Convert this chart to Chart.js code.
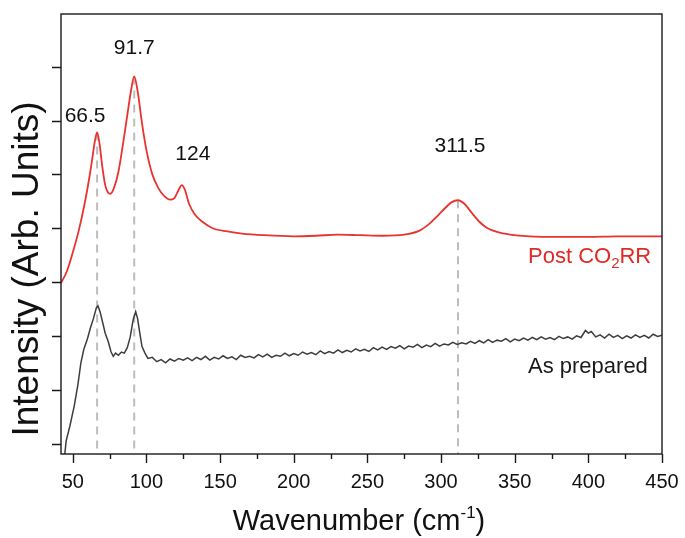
<!DOCTYPE html>
<html>
<head>
<meta charset="utf-8">
<script src="https://cdn.jsdelivr.net/npm/chart.js@4.4.0/dist/chart.umd.min.js"></script>
<style>
  html, body { margin: 0; padding: 0; background: #fff; }
  #wrap { width: 685px; height: 538px; }
</style>
</head>
<body>
<div id="wrap"><canvas id="raman"></canvas></div>
<script>
// Raman spectra (wavenumber in cm-1, intensity in arb. units, traces offset)
var postX = [42, 46, 50, 54, 58, 61, 63, 65, 66.5, 68, 70, 72, 74, 75.5, 78, 81, 84, 87, 89.5, 91.7,
  94, 97, 100, 104, 108, 112, 116, 119, 122, 124, 126, 129, 133, 138, 145, 155, 165, 180, 200, 215,
  230, 245, 260, 275, 285, 292, 298, 303, 307, 311.5, 316, 321, 326, 331, 338, 347, 360, 380, 400,
  420, 435, 450];
var postY = [2.98, 3.20, 3.55, 3.95, 4.45, 4.90, 5.25, 5.62, 5.78, 5.60, 5.15, 4.80, 4.66, 4.64, 4.75,
  5.05, 5.55, 6.10, 6.55, 6.82, 6.55, 5.95, 5.45, 5.00, 4.75, 4.60, 4.53, 4.56, 4.72, 4.80, 4.72, 4.45,
  4.25, 4.12, 4.00, 3.94, 3.90, 3.87, 3.85, 3.86, 3.88, 3.87, 3.86, 3.88, 3.95, 4.08, 4.24, 4.38, 4.48,
  4.52, 4.45, 4.28, 4.12, 4.01, 3.93, 3.88, 3.85, 3.84, 3.84, 3.85, 3.85, 3.85];

var prepX = [44, 45.5, 48, 51, 53.5, 55.5, 57.5, 60, 62, 64, 66, 67.1, 68.5, 70, 72, 74, 76, 77.5, 79,
  81, 83, 85, 87, 89, 91, 92.7, 94, 95.5, 97, 99, 101, 104, 107, 110, 113, 116, 119, 122, 125, 128,
  131, 134, 137, 140, 143, 146, 149, 152, 155, 158, 161, 164, 167, 170, 173, 176, 179, 182, 185, 188,
  191, 194, 197, 200, 203, 206, 209, 212, 215, 218, 221, 224, 227, 230, 233, 236, 239, 242, 245, 248,
  251, 254, 257, 260, 263, 266, 269, 272, 275, 278, 281, 284, 287, 290, 293, 296, 299, 302, 305, 308,
  311, 314, 317, 320, 323, 326, 329, 332, 335, 338, 341, 344, 347, 350, 353, 356, 359, 362, 365, 368,
  371, 374, 377, 380, 383, 386, 389, 392, 395, 398, 400, 402, 405, 408, 411, 414, 417, 420, 423, 426,
  429, 432, 435, 438, 441, 444, 447, 450];
var prepY = [-0.35, 0.05, 0.32, 0.70, 1.10, 1.50, 1.75, 1.95, 2.15, 2.32, 2.52, 2.56, 2.45, 2.28, 2.05,
  1.90, 1.70, 1.62, 1.68, 1.64, 1.70, 1.68, 1.78, 1.98, 2.30, 2.45, 2.32, 2.05, 1.80, 1.68, 1.58, 1.60,
  1.52, 1.56, 1.50, 1.57, 1.53, 1.58, 1.55, 1.59, 1.54, 1.60, 1.56, 1.62, 1.55, 1.60, 1.57, 1.63, 1.58,
  1.61, 1.56, 1.64, 1.60, 1.62, 1.59, 1.65, 1.61, 1.66, 1.60, 1.64, 1.62, 1.68, 1.63, 1.67, 1.64, 1.70,
  1.66, 1.69, 1.65, 1.72, 1.67, 1.71, 1.68, 1.74, 1.69, 1.73, 1.70, 1.76, 1.72, 1.75, 1.71, 1.78, 1.74,
  1.79, 1.75, 1.80, 1.77, 1.82, 1.76, 1.81, 1.79, 1.84, 1.78, 1.83, 1.80, 1.86, 1.81, 1.85, 1.83, 1.88,
  1.84, 1.87, 1.85, 1.90, 1.86, 1.91, 1.87, 1.93, 1.88, 1.92, 1.90, 1.95, 1.89, 1.94, 1.91, 1.96, 1.92,
  1.97, 1.93, 1.98, 1.94, 1.97, 1.93, 1.99, 1.95, 1.98, 1.94, 2.00, 1.97, 2.10, 2.05, 2.08, 1.98, 2.02,
  1.96, 2.03, 1.97, 2.01, 1.95, 2.00, 1.96, 2.02, 1.97, 2.01, 1.96, 2.03, 1.99, 2.01];

var peakLabels = [66.5, 91.7, 124, 311.5];
var dashedPeaks = [66.5, 91.7, 311.5];
var xTicks = [50, 100, 150, 200, 250, 300, 350, 400, 450];
var xMinorTicks = [75, 125, 175, 225, 275, 325, 375, 425];
var yTicks = [0, 1, 2, 3, 4, 5, 6, 7];

var FONT = '"Liberation Sans", Arial, sans-serif';

function toPoints(xs, ys) {
  return xs.map(function (x, i) { return { x: x, y: ys[i] }; });
}

function peakHeight(x) {
  return postY[postX.indexOf(x)];
}

var datasets = [
  {
    label: 'Post CO2RR',
    data: toPoints(postX, postY),
    borderColor: '#e8332f',
    borderWidth: 1.8,
    pointRadius: 0,
    cubicInterpolationMode: 'monotone',
    order: 1
  },
  {
    label: 'As prepared',
    data: toPoints(prepX, prepY),
    borderColor: '#3d3d3d',
    borderWidth: 1.5,
    pointRadius: 0,
    tension: 0,
    order: 2
  }
];

// dashed guides from each marked peak down to the axis
dashedPeaks.forEach(function (p) {
  datasets.push({
    data: [{ x: p, y: peakHeight(p) }, { x: p, y: -0.2 }],
    borderColor: '#bdbdbd',
    borderWidth: 2,
    borderDash: [8, 6],
    pointRadius: 0,
    order: 5
  });
});

// frame, tick marks and all the texts
var decorations = {
  id: 'decorations',
  afterDraw: function (chart) {
    var ctx = chart.ctx;
    var a = chart.chartArea;
    var xs = chart.scales.x, ys = chart.scales.y;
    ctx.save();

    ctx.strokeStyle = '#1a1a1a';
    ctx.lineWidth = 1.4;
    ctx.strokeRect(a.left, a.top, a.right - a.left, a.bottom - a.top);

    ctx.beginPath();
    xTicks.forEach(function (v) {
      var px = Math.round(xs.getPixelForValue(v)) + 0.5;
      ctx.moveTo(px, a.bottom); ctx.lineTo(px, a.bottom + 9);
    });
    xMinorTicks.forEach(function (v) {
      var px = Math.round(xs.getPixelForValue(v)) + 0.5;
      ctx.moveTo(px, a.bottom); ctx.lineTo(px, a.bottom + 5);
    });
    yTicks.forEach(function (v) {
      var py = Math.round(ys.getPixelForValue(v)) + 0.5;
      ctx.moveTo(a.left, py); ctx.lineTo(a.left - 9, py);
    });
    ctx.stroke();

    // peak positions
    var offs = { '66.5': [-12, -16], '91.7': [0, -28], '124': [11, -31], '311.5': [2, -54] };
    ctx.fillStyle = '#111';
    ctx.font = '21px ' + FONT;
    ctx.textAlign = 'center';
    ctx.textBaseline = 'middle';
    peakLabels.forEach(function (p) {
      var o = offs[String(p)];
      ctx.fillText(String(p), xs.getPixelForValue(p) + o[0], ys.getPixelForValue(peakHeight(p)) + o[1]);
    });

    // trace names
    ctx.textAlign = 'left';
    ctx.textBaseline = 'middle';
    var lx = a.right - 134;
    ctx.fillStyle = '#e02a26';
    ctx.font = '22px ' + FONT;
    var t1 = 'Post CO';
    ctx.fillText(t1, lx, 257);
    var w1 = ctx.measureText(t1).width;
    ctx.font = '15px ' + FONT;
    ctx.fillText('2', lx + w1, 264);
    var w2 = ctx.measureText('2').width;
    ctx.font = '22px ' + FONT;
    ctx.fillText('RR', lx + w1 + w2, 257);

    ctx.fillStyle = '#1a1a1a';
    ctx.fillText('As prepared', lx, 367);

    // axis titles
    ctx.fillStyle = '#111';
    ctx.textBaseline = 'alphabetic';
    ctx.font = '29px ' + FONT;
    var main = 'Wavenumber (cm';
    var wm = ctx.measureText(main).width;
    ctx.font = '17px ' + FONT;
    var sup = '-1';
    var ws = ctx.measureText(sup).width;
    ctx.font = '29px ' + FONT;
    var wc = ctx.measureText(')').width;
    var x0 = 359 - (wm + ws + wc) / 2;
    ctx.fillText(main, x0, 530);
    ctx.font = '17px ' + FONT;
    ctx.fillText(sup, x0 + wm, 518);
    ctx.font = '29px ' + FONT;
    ctx.fillText(')', x0 + wm + ws, 530);

    ctx.translate(28, 269);
    ctx.rotate(-Math.PI / 2);
    ctx.textAlign = 'center';
    ctx.textBaseline = 'middle';
    ctx.font = '37px ' + FONT;
    ctx.fillText('Intensity (Arb. Units)', 0, 0);
    ctx.restore();
  }
};

new Chart(document.getElementById('raman'), {
  type: 'line',
  data: { datasets: datasets },
  options: {
    responsive: true,
    maintainAspectRatio: false,
    animation: false,
    layout: { padding: { left: 0, right: 23, top: 14, bottom: 0 } },
    plugins: { legend: { display: false }, tooltip: { enabled: false } },
    scales: {
      x: {
        type: 'linear',
        min: 42,
        max: 450,
        grid: { display: false, drawTicks: false },
        border: { display: false },
        ticks: {
          font: { family: FONT, size: 20 },
          color: '#111',
          padding: 16,
          maxRotation: 0,
          autoSkip: false
        },
        afterBuildTicks: function (s) {
          s.ticks = xTicks.map(function (v) { return { value: v }; });
        },
        afterFit: function (s) {
          s.height = 84;
          s.paddingLeft = 0;
          s.paddingRight = 0;
        }
      },
      y: {
        type: 'linear',
        min: -0.195,
        max: 7.98,
        grid: { display: false, drawTicks: false },
        border: { display: false },
        ticks: { display: false },
        afterBuildTicks: function (s) {
          s.ticks = yTicks.map(function (v) { return { value: v }; });
        },
        afterFit: function (s) { s.width = 61; }
      }
    }
  },
  plugins: [decorations]
});
</script>
</body>
</html>
